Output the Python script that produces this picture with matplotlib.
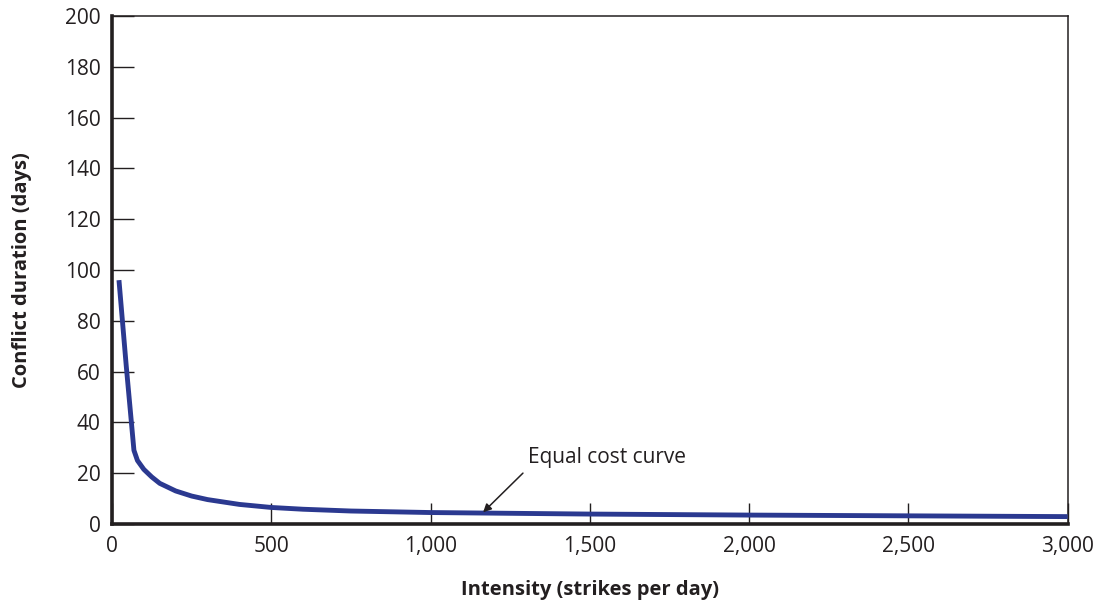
import matplotlib.pyplot as plt
from matplotlib.ticker import MultipleLocator, FuncFormatter

plt.rcParams['font.family'] = ['Open Sans', 'DejaVu Sans']

intensity = [22, 45, 69, 80, 100, 125, 150, 200, 250, 300, 400, 500, 600, 750,
             1000, 1250, 1500, 2000, 2500, 3000]
duration = [96, 62, 29, 25, 21.5, 18.5, 16, 13, 11, 9.6, 7.7, 6.5, 5.8, 5.1,
            4.5, 4.2, 3.9, 3.5, 3.2, 2.9]

fig = plt.figure(figsize=(11.03, 6.04), dpi=100)
ax = fig.add_axes([0.1015, 0.1325, 0.8665, 0.841])

ax.plot(intensity, duration, color='#2b3990', lw=3.5, solid_capstyle='butt', zorder=3)

ax.set_xlim(0, 3000)
ax.set_ylim(0, 200)
ax.xaxis.set_major_locator(MultipleLocator(500))
ax.yaxis.set_major_locator(MultipleLocator(20))
ax.xaxis.set_major_formatter(FuncFormatter(lambda v, p: f'{int(v):,}'))

for s in ['left', 'bottom']:
    ax.spines[s].set_linewidth(2.6)
    ax.spines[s].set_color('#231f20')
for s in ['top', 'right']:
    ax.spines[s].set_linewidth(1.1)
    ax.spines[s].set_color('#231f20')

ax.tick_params(axis='y', direction='in', length=15.5, width=1.0, color='#231f20',
               labelsize=15, pad=8, labelcolor='#231f20')
ax.tick_params(axis='x', direction='in', length=15, width=1.0, color='#231f20',
               labelsize=15, pad=9, labelcolor='#231f20')

ax.set_xlabel('Intensity (strikes per day)', fontsize=14.5, fontweight='bold',
              labelpad=16, color='#231f20')
ax.set_ylabel('Conflict duration (days)', fontsize=14.5, fontweight='bold',
              labelpad=24, color='#231f20')

ax.annotate('Equal cost curve', xy=(1165, 4.6), xytext=(1305, 26),
            fontsize=15, color='#231f20', ha='left', va='center',
            arrowprops=dict(arrowstyle='-|>', color='#231f20', lw=1.1,
                            relpos=(0, 0), shrinkA=2, shrinkB=0,
                            mutation_scale=12))

fig.savefig('out.png', dpi=100)
